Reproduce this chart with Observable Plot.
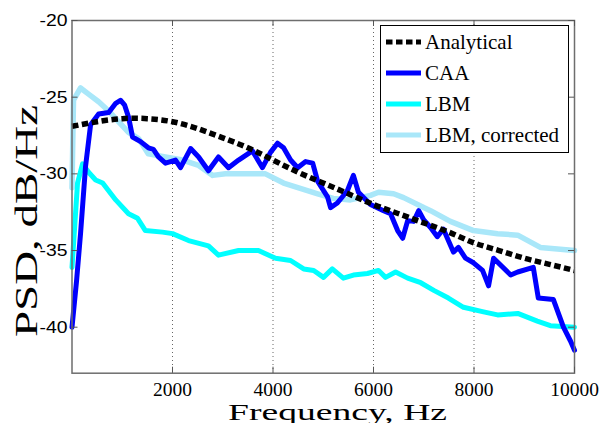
<!DOCTYPE html>
<html>
<head>
<meta charset="utf-8">
<script src="https://cdn.jsdelivr.net/npm/d3@7"></script>
<script src="https://cdn.jsdelivr.net/npm/@observablehq/plot@0.6"></script>
<style>
  html, body { margin: 0; padding: 0; background: #fff; }
  #chart { width: 608px; height: 423px; }
</style>
</head>
<body>
<div id="chart"></div>
<script>
// Power spectral density of the radiated sound, three methods compared.

const seriesNames = ["Analytical", "CAA", "LBM", "LBM, corrected"];

const analyticalFreq = [0, 500, 1000, 1500, 2000, 2500, 3000, 3500, 4000, 4500, 5000,
  5500, 6000, 6500, 7000, 7500, 8000, 8500, 9000, 9500, 10000];
const analyticalPsd = [-26.9, -26.6, -26.4, -26.4, -26.6, -27.05, -27.65, -28.3, -29.1, -29.9, -30.6,
  -31.3, -32.0, -32.6, -33.2, -33.8, -34.5, -35.0, -35.5, -35.9, -36.3];

const caaFreq = [0, 90, 170, 270, 370, 530, 730, 870, 965, 1045, 1125, 1205, 1365, 1520, 1620,
  1720, 1860, 2060, 2160, 2360, 2520, 2715, 2915, 3115, 3315, 3590, 3790, 3950, 4090, 4210,
  4350, 4490, 4650, 4790, 4890, 5085, 5145, 5280, 5480, 5600, 5700, 5940, 6200, 6340, 6480,
  6580, 6680, 6800, 6900, 7000, 7135, 7270, 7390, 7590, 7690, 7830, 7990, 8170, 8290, 8390,
  8730, 8870, 9180, 9280, 9580, 9780, 9920, 10000];
const caaPsd = [-40.0, -37.0, -33.9, -29.5, -26.8, -26.1, -26.0, -25.4, -25.2, -25.5, -26.3, -27.6, -27.9, -28.3, -28.4,
  -28.9, -29.3, -29.1, -29.6, -28.35, -28.9, -29.8, -28.9, -29.6, -29.1, -28.5, -29.6, -28.6, -28.0, -28.3,
  -29.1, -29.6, -29.2, -29.3, -30.5, -31.5, -32.2, -31.9, -31.1, -30.1, -31.2, -32.0, -32.4, -32.6, -33.7,
  -34.2, -33.05, -33.1, -32.4, -33.0, -33.5, -34.1, -33.6, -35.1, -34.8, -35.5, -35.8, -36.3, -37.3, -35.5,
  -36.6, -36.4, -36.1, -38.1, -38.2, -40.0, -40.9, -41.5];

const lbmFreq = [0, 110, 210, 330, 470, 610, 870, 1125, 1305, 1460, 1800, 2000, 2320, 2715, 2915,
  3315, 3710, 4050, 4350, 4610, 4810, 5005, 5180, 5400, 5600, 5880, 6100, 6240, 6440, 6680,
  6940, 7200, 7490, 7790, 8190, 8470, 8870, 9260, 9520, 10000];
const lbmPsd = [-36.1, -30.6, -29.35, -29.9, -30.4, -30.6, -31.7, -32.6, -32.9, -33.7, -33.8, -33.9, -34.35, -34.7, -35.3,
  -35.0, -35.0, -35.5, -35.65, -36.2, -36.3, -36.75, -36.2, -36.8, -36.6, -36.5, -36.3, -36.75, -36.4, -36.8,
  -37.1, -37.6, -38.1, -38.7, -39.0, -39.2, -39.1, -39.6, -39.9, -40.0];

const lbmCorrFreq = [0, 30, 170, 330, 530, 730, 925, 1125, 1325, 1520, 1860, 2200, 2520, 2800, 3055,
  3450, 3850, 4210, 4890, 5200, 5540, 5940, 6100, 6400, 6600, 7000, 7135, 7530, 7990, 8470,
  8870, 9320, 10000];
const lbmCorrPsd = [-30.9, -25.2, -24.4, -24.8, -25.3, -25.9, -26.6, -27.3, -27.7, -28.7, -28.9, -29.1, -29.45, -30.1, -30.0,
  -30.0, -30.0, -30.6, -31.3, -31.6, -31.7, -31.4, -31.2, -31.3, -31.55, -32.2, -32.4, -33.1, -33.7, -33.9,
  -34.0, -34.8, -35.0];

const xTicks = [2000, 4000, 6000, 8000, 10000];
const yTicks = [-20, -25, -30, -35, -40];

const colors = {
  "Analytical": "#000000",
  "CAA": "#0000ff",
  "LBM": "#00ffff",
  "LBM, corrected": "#a9e7f9"
};
const dash = "6.5,3.5";

const rows = (freq, psd, name) => freq.map((f, i) => ({ freq: f, psd: psd[i], name }));
const analytical = rows(analyticalFreq, analyticalPsd, "Analytical");
const caa = rows(caaFreq, caaPsd, "CAA");
const lbm = rows(lbmFreq, lbmPsd, "LBM");
const lbmCorr = rows(lbmCorrFreq, lbmCorrPsd, "LBM, corrected");

const W = 608, H = 423;
const mL = 71.5, mR = 34, mT = 20, mB = 50.3;
const plotW = W - mL - mR, plotH = H - mT - mB;

const serif = "Liberation Serif";
const sans = "Liberation Sans";

const svg = Plot.plot({
  width: W,
  height: H,
  marginLeft: mL,
  marginRight: mR,
  marginTop: mT,
  marginBottom: mB,
  style: { background: "#fff", overflow: "visible" },
  x: { domain: [0, 10000] },
  y: { domain: [-43, -20] },
  marks: [
    // dotted grid
    Plot.ruleX(xTicks.filter(d => d < 10000), { x: d => d, stroke: "#666", strokeWidth: 1, strokeDasharray: "1,3" }),
    Plot.ruleY(yTicks.filter(d => d > -20), { y: d => d, stroke: "#666", strokeWidth: 1, strokeDasharray: "1,3" }),
    // spectra
    Plot.line(lbmCorr, { x: "freq", y: "psd", stroke: colors["LBM, corrected"], strokeWidth: 5.5 }),
    Plot.line(lbm, { x: "freq", y: "psd", stroke: colors["LBM"], strokeWidth: 5 }),
    Plot.line(caa, { x: "freq", y: "psd", stroke: colors["CAA"], strokeWidth: 5 }),
    Plot.line(analytical, { x: "freq", y: "psd", stroke: colors["Analytical"], strokeWidth: 5.5, strokeDasharray: dash, strokeLinecap: "butt", curve: "natural" }),
    // box and inward ticks
    Plot.frame({ stroke: "#6e6e6e", strokeWidth: 1.5 }),
    Plot.ruleX(xTicks, { x: d => d, stroke: "#555", strokeWidth: 1, insetTop: plotH - 6 }),
    Plot.ruleX(xTicks, { x: d => d, stroke: "#555", strokeWidth: 1, insetBottom: plotH - 6 }),
    Plot.ruleY(yTicks, { y: d => d, stroke: "#555", strokeWidth: 1, insetRight: plotW - 6 }),
    Plot.ruleY(yTicks, { y: d => d, stroke: "#555", strokeWidth: 1, insetLeft: plotW - 6 }),
    // tick labels
    Plot.axisX(xTicks, { tickSize: 0, tickPadding: 9, label: null, tickFormat: d => String(d), fontSize: 19.5, fontFamily: serif, color: "#000" }),
    Plot.axisY(yTicks, { tickSize: 0, tickPadding: 4.5, label: null, tickFormat: d => String(d), fontSize: 17, fontFamily: sans, color: "#000" })
  ]
});

const root = d3.select(svg);

// y tick labels are a little wider than the face's natural width
root.selectAll("g[aria-label='y-axis tick label'] text")
  .attr("textLength", 28)
  .attr("lengthAdjust", "spacingAndGlyphs");

// axis titles
root.append("text")
  .attr("x", 228).attr("y", 419.5)
  .attr("text-anchor", "start")
  .attr("font-family", serif).attr("font-size", 23)
  .attr("textLength", 219).attr("lengthAdjust", "spacingAndGlyphs")
  .attr("fill", "#000")
  .text("Frequency, Hz");

root.append("text")
  .attr("transform", "translate(37,221) rotate(-90)")
  .attr("text-anchor", "middle")
  .attr("font-family", serif).attr("font-size", 31)
  .attr("textLength", 232).attr("lengthAdjust", "spacingAndGlyphs")
  .attr("fill", "#000")
  .text("PSD, dB/Hz");

// legend
const lg = root.append("g").attr("aria-label", "legend");
lg.append("rect")
  .attr("x", 380.5).attr("y", 25.5).attr("width", 188).attr("height", 127)
  .style("fill", "#ffffff").style("stroke", "#000000").style("stroke-width", "1px");
const rowY = [42, 73, 104, 135];
seriesNames.forEach((name, i) => {
  const y = rowY[i];
  lg.append("line")
    .attr("x1", 386).attr("x2", 421).attr("y1", y).attr("y2", y)
    .style("stroke", colors[name]).style("stroke-width", "5px")
    .style("stroke-linecap", "butt")
    .style("stroke-dasharray", name === "Analytical" ? dash : "none");
  lg.append("text")
    .attr("x", 425).attr("y", y + 7)
    .attr("text-anchor", "start")
    .attr("font-family", serif).attr("font-size", 21)
    .attr("fill", "#000")
    .text(name);
});

document.getElementById("chart").appendChild(svg);
</script>
</body>
</html>
